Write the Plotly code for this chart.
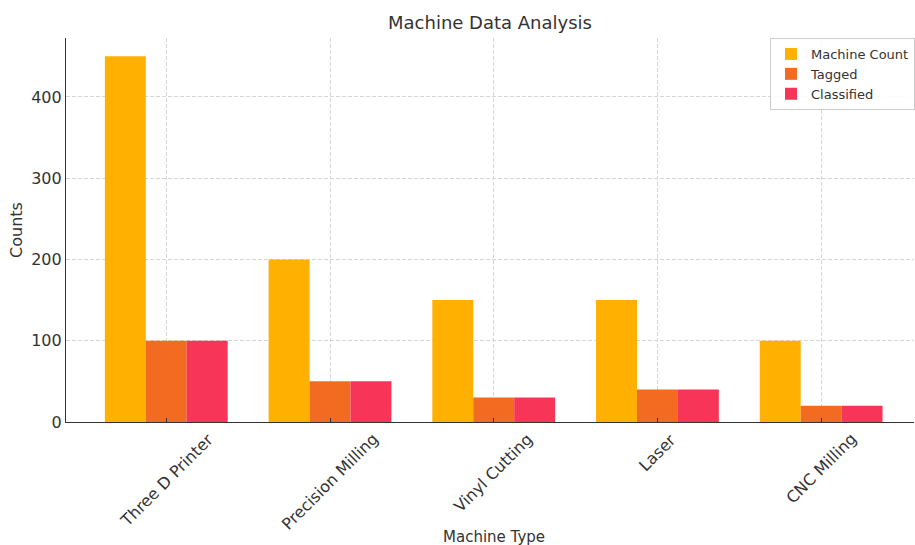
import plotly.graph_objects as go

categories = ["Three D Printer", "Precision Milling", "Vinyl Cutting", "Laser", "CNC Milling"]
machine_count = [450, 200, 150, 150, 100]
tagged = [100, 50, 30, 40, 20]
classified = [100, 50, 30, 40, 20]
y_ticks = [0, 100, 200, 300, 400]

FONT = "DejaVu Sans"
TXT = "#333333"

fig = go.Figure()
fig.add_trace(go.Bar(name="Machine Count", x=categories, y=machine_count,
                     marker=dict(color="#FFB000", line=dict(width=0))))
fig.add_trace(go.Bar(name="Tagged", x=categories, y=tagged,
                     marker=dict(color="#F26B21", line=dict(width=0))))
fig.add_trace(go.Bar(name="Classified", x=categories, y=classified,
                     marker=dict(color="#F73558", line=dict(width=0))))

annotations = []
for c in categories:
    annotations.append(dict(x=c, y=0, xref="x", yref="paper", text=c, showarrow=False,
                            textangle=-45, xanchor="center", yanchor="top", yshift=-5,
                            font=dict(family=FONT, size=16, color=TXT)))
annotations.append(dict(x=categories[2], y=0, xref="x", yref="paper", text="Machine Type",
                        showarrow=False, xanchor="center", yanchor="middle", yshift=-115,
                        font=dict(family=FONT, size=15, color=TXT)))

fig.update_layout(
    width=915, height=545,
    margin=dict(l=66, r=0, t=38, b=123),
    paper_bgcolor="white", plot_bgcolor="white",
    barmode="group", bargap=0.25, bargroupgap=0,
    title=dict(text="Machine Data Analysis", x=0.5, xref="paper", xanchor="center",
               y=1 - 23 / 545, yref="container", yanchor="middle",
               font=dict(family=FONT, size=18, color=TXT)),
    font=dict(family=FONT, color=TXT),
    showlegend=True,
    legend=dict(x=(771 - 66) / 849, xanchor="left", y=1.0, yanchor="top",
                bgcolor="rgba(255,255,255,0.9)", bordercolor="#cccccc", borderwidth=1,
                font=dict(family=FONT, size=13, color=TXT),
                itemwidth=30, tracegroupgap=0),
    annotations=annotations,
)

fig.update_xaxes(
    type="category", range=[-0.6125, 4.567],
    showticklabels=False,
    showgrid=True, gridcolor="#d6d6d6", griddash="4px,2px", gridwidth=1,
    showline=True, linecolor="#333333", linewidth=1.2,
    ticks="inside", ticklen=4, tickcolor="#333333",
    zeroline=False,
)
fig.update_yaxes(
    range=[0, 472.5], tickvals=y_ticks, ticktext=[str(v) for v in y_ticks],
    showgrid=True, gridcolor="#d6d6d6", griddash="4px,2px", gridwidth=1,
    showline=True, linecolor="#333333", linewidth=1.2,
    ticks="", tickfont=dict(family=FONT, size=16, color=TXT),
    zeroline=False,
    title=dict(text="Counts", font=dict(family=FONT, size=16, color=TXT), standoff=4),
)

fig.write_html("out.html", config={"displayModeBar": False},
               post_script="document.body.style.margin='0';document.body.style.padding='0';")
